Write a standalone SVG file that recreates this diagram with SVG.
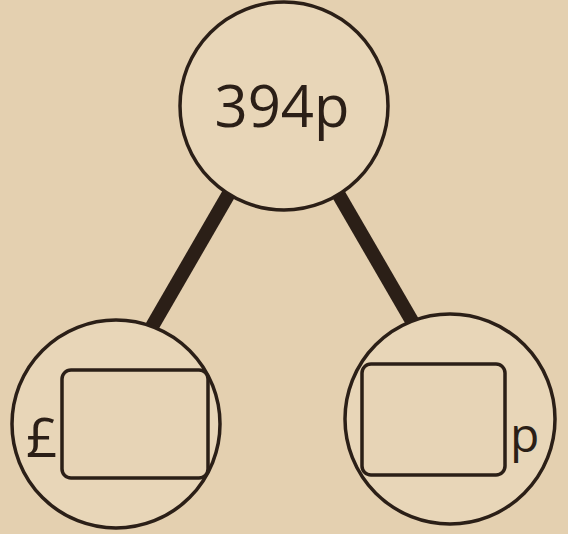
<svg xmlns="http://www.w3.org/2000/svg" width="568" height="534" viewBox="0 0 568 534">
<style>
.bg{fill:#e4d0b0}
.node{fill:#e8d6b8;stroke:#2b1f17;stroke-width:3.5}
.box{fill:#e7d4b6;stroke:#2b1f17;stroke-width:3.5}
.edge{stroke:#2b1f17;stroke-width:14;stroke-linecap:butt}
.t{font-family:"Open Sans","DejaVu Sans",sans-serif;fill:#2b1f17}
</style>
<rect class="bg" x="0" y="0" width="568" height="534"/>
<g id="connectors">
<line class="edge" x1="231" y1="190" x2="150" y2="330"/>
<line class="edge" x1="336" y1="190" x2="416" y2="328"/>
</g>
<g id="top">
<circle class="node" cx="284" cy="106" r="104"/>
<text class="t" x="282" y="127" font-size="58" text-anchor="middle">394p</text>
</g>
<g id="left">
<circle class="node" cx="116" cy="424" r="104"/>
<rect class="box" x="62" y="370" width="146" height="108" rx="9"/>
<text class="t" x="26" y="457" font-size="55">£</text>
</g>
<g id="right">
<circle class="node" cx="450" cy="419" r="105"/>
<rect class="box" x="362" y="364" width="143" height="111" rx="9"/>
<text class="t" x="510" y="452" font-size="48">p</text>
</g>
</svg>
